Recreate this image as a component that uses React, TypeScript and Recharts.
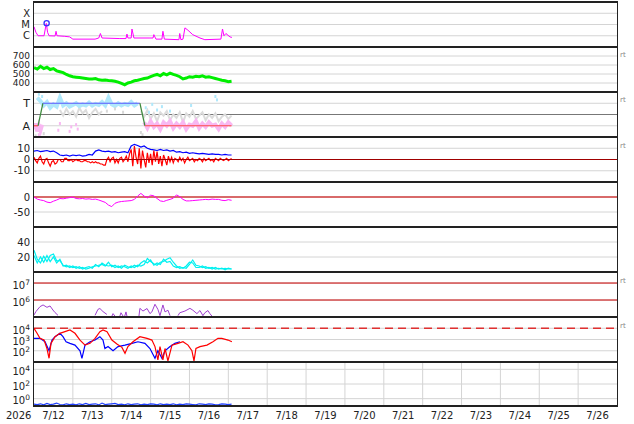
import React from 'react';
import {
  ComposedChart,
  Line,
  Scatter,
  XAxis,
  YAxis,
  CartesianGrid,
  ReferenceLine,
} from 'recharts';

const FONT = '"DejaVu Sans", sans-serif';
const W = 634;

const seq = (from: number, to: number, step: number) => {
  const out: number[] = [];
  for (let t = from; t <= to + 1e-9; t += step) out.push(t);
  return out;
};

// time axis in hours from 7/12 00:00
const DAYS = ['7/12', '7/13', '7/14', '7/15', '7/16', '7/17', '7/18', '7/19', '7/20', '7/21', '7/22', '7/23', '7/24', '7/25', '7/26'];
const MIDNIGHTS = seq(24, 336, 24);
const NOONS = DAYS.map((_, i) => 12 + i * 24);
const H1 = seq(0, 122, 1);
const H2 = seq(0, 122, 2);

// x-ray flux (log10 W/m2)
const XRAY_T = [0, 1.2, 2.5, 6.2, 7.6, 8.4, 9.3, 13, 13.6, 14.2, 19, 22, 24, 37.7, 40, 41, 42, 53, 56.8, 57.4, 58, 60, 60.5, 61.7, 71.6, 73.5, 74, 75.3, 79, 79.6, 80.5, 89.5, 90, 90.7, 92, 93.2, 95, 98, 102.5, 105.5, 115.4, 116.4, 117.3, 118.5, 121, 122.2];
const XRAY_V = [-5.2, -5.7, -6.0, -6.0, -4.9, -5.7, -6.0, -6.02, -5.6, -6.0, -6.05, -6.1, -6.3, -6.3, -6.2, -5.8, -6.2, -6.25, -6.25, -5.85, -6.2, -6.2, -5.4, -6.2, -6.2, -6.2, -5.9, -6.3, -6.3, -5.6, -6.3, -6.35, -5.8, -6.35, -6.3, -5.3, -5.5, -5.9, -6.2, -6.35, -6.3, -5.4, -6.0, -5.8, -6.1, -6.15];
const FLARE_T = [7.8];
const FLARE_V = [-4.89];

// solar wind speed km/s
const SPEED = [570, 555, 585, 560, 575, 550, 560, 535, 525, 515, 495, 480, 470, 465, 460, 455, 450, 445, 445, 450, 435, 430, 432, 428, 425, 420, 410, 395, 380, 400, 410, 425, 430, 440, 450, 455, 470, 485, 495, 480, 505, 490, 510, 495, 485, 470, 445, 455, 470, 465, 475, 470, 480, 465, 470, 460, 450, 440, 430, 425, 415, 420];

// IMF sector (T = 1, A = -1)
const TOWARD_T = seq(2, 64, 2);
const TOWARD_V = [1.5, 1.2, 0.8, 1.1, 0.6, 0.9, 0.7, 1.5, 0.8, 1.0, 0.7, 0.85, 1.0, 0.75, 0.9, 0.8, 1.05, 0.8, 0.95, 0.85, 1.1, 0.8, 1.5, 0.9, 0.75, 1.0, 0.8, 0.95, 0.85, 1.1, 0.8, 1.0];
const AWAY1_T = seq(0, 5, 1);
const AWAY1_V = [-1.3, -0.8, -1.5, -1.0, -1.4, -0.9];
const AWAY2_T = seq(68, 122, 2);
const AWAY2_V = [-0.7, -1.2, -0.6, -1.1, -0.8, -1.3, -0.7, -1.0, -0.6, -1.2, -0.8, -1.1, -0.7, -1.3, -0.9, -1.0, -0.6, -1.2, -0.8, -1.1, -0.7, -1.0, -0.9, -1.3, -0.8, -1.1, -0.7, -1.0];
const GRAY1_T = seq(16, 42, 2);
const GRAY1_V = [0.4, -0.1, 0.5, 0.0, 0.3, -0.2, 0.6, 0.1, 0.4, -0.3, 0.2, 0.5, 0.0, 0.3];
const GRAY2_T = seq(66, 122, 2);
const GRAY2_V = [0.3, -0.2, 0.4, -0.4, 0.1, -0.6, 0.2, -0.1, 0.3, -0.5, 0.0, -0.3, 0.2, -0.7, 0.1, -0.2, 0.3, -0.4, -0.1, 0.2, -0.5, 0.0, -0.3, 0.1, -0.6, -0.2, 0.0, -0.4, -0.1];
const TOWARD_DOT_T = [3, 5, 69, 71, 73, 76, 79, 84, 97, 112, 113];
const TOWARD_DOT_V = [1.8, 1.6, 0.6, 0.2, 0.9, 0.4, 0.7, 0.3, 0.8, 1.6, 1.3];
const AWAY_DOT_T = [3, 15, 16, 22, 23, 26, 27];
const AWAY_DOT_V = [-1.8, -1.4, -0.8, -1.5, -1.1, -0.9, -1.3];
const GRAY_DOT_T = [1, 6, 45, 50, 55, 66, 67];
const GRAY_DOT_V = [-1.9, -1.7, 0.3, 0.5, 0.2, -1.6, -1.8];
const SECTOR_T = [0, 2.5, 5.5, 65.4, 68.5, 122];
const SECTOR_V = [-1, -1, 1, 1, -1, -1];

// IMF Bt (2 h) / Bz (1 h) nT
const BT = [7.5, 8, 7, 7.5, 8, 7, 7.5, 6, 4, 3.5, 4, 3, 4, 3.5, 4, 3, 3.5, 4.5, 4, 7.5, 8.5, 7.5, 7, 7.5, 6.5, 7, 6, 6.5, 7, 6, 12, 13.5, 12.5, 11, 12, 10, 9, 8.5, 8, 9, 8, 8.5, 7.5, 8, 6.5, 7, 6, 6.5, 5.5, 6, 5.5, 5, 5.5, 5, 4.5, 5, 4.5, 4.5, 4, 4.5, 4, 4];
const BZ = [
  2, -1, -3, 1, 3, -2, -4, 0, 1, -3, -6, -2, -1, -4, -3, 0, 0, -2, -2, 1, 1,
  -1, -1, 0, -2, -1, 0, -1, -1, -2, -2, -1, -1, -2, -2, -3, -2, -3, -2, -3, -3, -4, -4, -5, -5,
  0, 2, -2, 1, 2, -3, 0, -3, 1, 2, -2, 0,
  3, -2, 5, 9, -6, 12, 2, -4, 10, -8, 8, 0, -7, 6, -3, 5, -5, 8, -2, 7, -4, 3, -6, 4, 0, -5, 3, -2, 2,
  -3, 1, 0, -2, 2, -1, 1, -3, 0, 2, -1, 0, 1, -2, 0, -1, 1, 0, -2, 1, -1, 0, 1, -1, 0, -2, 1, 0, -1, 1, 0, -1, 0, 1, -1, 0, 1,
];

// Dst nT
const DST = [0, -7, -10, -12, -17, -19, -14, -10, -5, -6, -4, -2, 0, -5, -6, -5, -7, -6, -8, -7, -10, -14, -18, -27, -32, -21, -17, -15, -14, -13, -12, -8, 3, 12, 3, -3, 6, 4, -5, -13, -15, -11, -8, -4, 7, 1, -8, -13, -13, -12, -11, -10, -9, -8, -9, -7, -8, -8, -11, -12, -9, -11];

// density
const DENS_A = [29, 17, 12, 21, 14, 22, 24, 15, 15, 9, 7, 8, 6, 7, 5, 6, 4, 5, 7, 8, 9, 10, 8, 13, 7, 9, 6, 8, 7, 5, 8, 6, 9, 8, 10, 18, 14, 11, 9, 13, 14, 17, 19, 13, 8, 5, 6, 5, 10, 16, 9, 8, 6, 7, 5, 6, 4, 5, 4, 5, 4, 4];
const DENS_B = [22, 12, 20, 13, 22, 14, 20, 12, 17, 8, 9, 6, 8, 5, 7, 4, 6, 7, 5, 10, 7, 12, 9, 8, 9, 6, 8, 5, 9, 7, 6, 9, 7, 12, 15, 12, 16, 9, 12, 10, 17, 13, 14, 8, 6, 7, 5, 8, 13, 12, 6, 6, 8, 5, 6, 4, 6, 4, 5, 3, 5, 4];

// proton fluence (log10)
const PROT_T = [0, 1.2, 3.7, 5.6, 8, 9.9, 11.7, 13, 14.8, 16, 37.7, 39.5, 40.7, 42.6, 45, 46, 48.1, 48.8, 50, 51, 53, 53.7, 55, 55.5, 56, 56.8, 57.4, 58, 64.8, 65.4, 67.3, 69.8, 71.6, 72.8, 74.7, 76.5, 77.8, 79.6, 80.9, 82.7, 84, 85, 88.9, 90, 93.2, 96.3, 98.1, 100.6, 102.5, 104.3, 105.5, 107.4, 108.6, 109.9];
const PROT_V = [5.12, 5.32, 5.61, 5.71, 5.57, 5.65, 5.41, 5.26, 5.1, null, 5.1, 5.45, 5.5, 5.32, 5.15, null, 5.05, 5.2, 5.05, null, 5.05, 5.25, 5.05, null, 5.05, 5.3, 5.05, null, 5.05, 5.51, 5.35, 5.5, 5.2, 5.3, 5.75, 5.45, 5.08, 5.71, 5.3, 5.4, 5.08, null, 5.08, 5.25, 5.35, 5.51, 5.4, 5.2, 5.38, 5.08, 5.25, 5.38, 5.2, 5.05];

// electron flux (log10)
const ELEC_RED_T = [0, 1.9, 3.7, 6.2, 8.0, 9.3, 10.5, 13.0, 16.0, 19.1, 22.2, 25.3, 28.4, 31.5, 34.6, 37.7, 40.7, 42.6, 45.1, 48.1, 51.2, 54.3, 56.2, 58.0, 61.1, 65.4, 69.8, 72.8, 74.7, 76.5, 77.8, 79.6, 80.9, 82.7, 85.2, 88.9, 92.0, 95.1, 97.5, 98.8, 100.0, 102.5, 106.8, 110.5, 113.6, 116.0, 119.8, 122.2];
const ELEC_RED_V = [4.0, 3.55, 3.1, 2.95, 2.2, 1.33, 2.66, 3.25, 3.55, 3.7, 3.85, 3.55, 2.95, 2.5, 2.66, 3.1, 3.7, 3.85, 3.7, 2.95, 2.6, 2.3, 1.77, 2.37, 2.8, 3.25, 3.1, 2.95, 2.37, 1.18, 2.37, 1.18, 2.2, 1.1, 2.5, 2.66, 2.8, 2.5, 2.0, 1.1, 2.2, 2.37, 2.5, 2.8, 3.1, 3.1, 2.95, 2.8];
const ELEC_BLUE_T = [0, 3.7, 6.8, 9.3, 11.1, 13.0, 16.0, 17.9, 19.8, 22.2, 25.3, 28.4, 29.6, 31.5, 34.6, 37.7, 40.7, 42.6, 43.8, 45.7, 48.8, 51.9, 56.2, 60.5, 64.2, 68.5, 71.6, 74.7, 76.5, 79.0, 80.9, 84.0, 87.0, 90.1];
const ELEC_BLUE_V = [3.1, 3.1, 2.8, 2.0, 2.95, 3.25, 3.55, 3.25, 2.8, 2.66, 2.5, 2.0, 1.33, 2.5, 2.8, 2.95, 3.25, 2.95, 2.2, 2.37, 2.0, 2.37, 2.5, 2.66, 2.8, 2.66, 2.2, 1.33, 2.0, 1.33, 2.0, 2.37, 2.66, 2.8];

// bottom panel (log10)
const LOW_FLUX = [-0.75, -0.8, -0.7, -0.85, -0.65, -0.8, -0.75, -0.6, -0.8, -0.85, -0.7, -0.8, -0.75, -0.85, -0.7, -0.8, -0.65, -0.8, -0.75, -0.7, -0.85, -0.6, -0.8, -0.75, -0.7, -0.65, -0.8, -0.75, -0.85, -0.7, -0.8, -0.75, -0.7, -0.85, -0.75, -0.8, -0.7, -0.75, -0.85, -0.7, -0.8, -0.75, -0.8, -0.7, -0.85, -0.75, -0.8, -0.7, -0.75, -0.8, -0.85, -0.7, -0.75, -0.8, -0.7, -0.75, -0.85, -0.8, -0.7, -0.75, -0.8, -0.75];

const PANEL_TOPS = [2, 47, 92, 137, 182, 227, 272, 317, 362];
const BOTTOM = 406;
const RT_MARKS = [56, 101, 147, 282, 327];

const pts = (t: number[], v: (number | null)[]) => t.map((x, i) => ({ t: x, v: v[i] }));

const textTick = (fmt: (v: number) => string, size = 10) => (p: any) => (
  <text x={p.x} y={p.y} dy="0.35em" textAnchor="end" fontSize={size} fontFamily={FONT} fill="#222">
    {fmt(p.payload.value)}
  </text>
);

const supTick = (p: any) => (
  <text x={p.x} y={p.y} dy="0.35em" textAnchor="end" fontFamily={FONT} fill="#222">
    <tspan fontSize={10}>10</tspan>
    <tspan fontSize={7.5} dy={-4}>
      {p.payload.value}
    </tspan>
  </text>
);

const dotShape = (color: string) => (p: any) => (
  <rect x={p.cx - 1} y={p.cy - 1.5} width={2} height={3} fill={color} />
);

interface PanelProps {
  top: number;
  height: number;
  domain: [number, number];
  ticks: number[];
  tick: any;
  bottomAxis?: boolean;
  children: React.ReactNode;
}

function Panel({ top, height, domain, ticks, tick, bottomAxis, children }: PanelProps) {
  return (
    <div style={{ position: 'absolute', left: 0, top }}>
      <ComposedChart
        width={W}
        height={height + (bottomAxis ? 20 : 0)}
        margin={{ top: 0, right: 17, bottom: 0, left: 0 }}
      >
        <CartesianGrid stroke="#d4d4d4" verticalValues={MIDNIGHTS} />
        {bottomAxis ? (
          <XAxis
            type="number"
            dataKey="t"
            domain={[0, 360]}
            ticks={NOONS}
            interval={0}
            allowDataOverflow
            height={20}
            tickSize={0}
            tickMargin={6}
            tickLine={false}
            axisLine={false}
            tickFormatter={(v: number) => DAYS[Math.round((v - 12) / 24)]}
            tick={{ fontSize: 10, fontFamily: FONT, fill: '#222' }}
          />
        ) : (
          <XAxis
            type="number"
            dataKey="t"
            domain={[0, 360]}
            ticks={MIDNIGHTS}
            allowDataOverflow
            height={0}
            tick={false}
            tickLine={false}
            axisLine={false}
          />
        )}
        <YAxis
          type="number"
          dataKey="v"
          domain={domain}
          ticks={ticks}
          interval={0}
          allowDataOverflow
          width={34}
          tickSize={0}
          tickMargin={4}
          tickLine={false}
          axisLine={false}
          tick={tick}
        />
        {children}
      </ComposedChart>
    </div>
  );
}

const XRAY_LABELS: Record<string, string> = { '-4': 'X', '-5': 'M', '-6': 'C' };
const SECTOR_LABELS: Record<string, string> = { '1': 'T', '-1': 'A' };

export default function App() {
  const sector = pts(SECTOR_T, SECTOR_V);
  return (
    <div style={{ position: 'fixed', left: 0, top: 0, width: W, height: 424, background: '#fff', overflow: 'hidden' }}>
      <Panel top={PANEL_TOPS[0]} height={45} domain={[-7, -3]} ticks={[-6, -5, -4]} tick={textTick((v) => XRAY_LABELS[String(v)], 10)}>
        <Line data={pts(XRAY_T, XRAY_V)} dataKey="v" stroke="#ff00ff" strokeWidth={1} dot={false} isAnimationActive={false} />
        <Scatter
          data={pts(FLARE_T, FLARE_V)}
          dataKey="v"
          isAnimationActive={false}
          shape={(p: any) => <circle cx={p.cx} cy={p.cy} r={2.6} fill="none" stroke="#3333ff" strokeWidth={1.3} />}
        />
      </Panel>

      <Panel top={PANEL_TOPS[1]} height={45} domain={[300, 800]} ticks={[400, 500, 600, 700]} tick={textTick((v) => String(v), 9)}>
        <Line data={pts(H2, SPEED)} dataKey="v" stroke="#00ee00" strokeWidth={3} dot={false} isAnimationActive={false} />
      </Panel>

      <Panel top={PANEL_TOPS[2]} height={45} domain={[-2, 2]} ticks={[-1, 1]} tick={textTick((v) => SECTOR_LABELS[String(v)], 11)}>
        <ReferenceLine y={0} stroke="#777" strokeWidth={1} />
        <Line data={pts(GRAY1_T, GRAY1_V)} dataKey="v" stroke="#dcdcdc" strokeWidth={2} dot={false} isAnimationActive={false} />
        <Line data={pts(GRAY2_T, GRAY2_V)} dataKey="v" stroke="#dcdcdc" strokeWidth={2} dot={false} isAnimationActive={false} />
        <Scatter data={pts(GRAY_DOT_T, GRAY_DOT_V)} dataKey="v" isAnimationActive={false} shape={dotShape('#d8d8d8')} />
        <Line data={pts(TOWARD_T, TOWARD_V)} dataKey="v" stroke="#b0e8fb" strokeWidth={4} dot={false} isAnimationActive={false} />
        <Scatter data={pts(TOWARD_DOT_T, TOWARD_DOT_V)} dataKey="v" isAnimationActive={false} shape={dotShape('#b0e8fb')} />
        <Line data={pts(AWAY1_T, AWAY1_V)} dataKey="v" stroke="#f8b8f2" strokeWidth={4} dot={false} isAnimationActive={false} />
        <Line data={pts(AWAY2_T, AWAY2_V)} dataKey="v" stroke="#f8b8f2" strokeWidth={4} dot={false} isAnimationActive={false} />
        <Scatter data={pts(AWAY_DOT_T, AWAY_DOT_V)} dataKey="v" isAnimationActive={false} shape={dotShape('#f8b8f2')} />
        <Line data={[sector[0], sector[1]]} dataKey="v" stroke="#ff4a4a" strokeWidth={1.2} dot={false} isAnimationActive={false} />
        <Line data={[sector[1], sector[2]]} dataKey="v" stroke="#3d8a3d" strokeWidth={1.2} dot={false} isAnimationActive={false} />
        <Line data={[sector[2], sector[3]]} dataKey="v" stroke="#5a5aff" strokeWidth={1.2} dot={false} isAnimationActive={false} />
        <Line data={[sector[3], sector[4]]} dataKey="v" stroke="#3d8a3d" strokeWidth={1.2} dot={false} isAnimationActive={false} />
        <Line data={[sector[4], sector[5]]} dataKey="v" stroke="#ff4a4a" strokeWidth={1.2} dot={false} isAnimationActive={false} />
      </Panel>

      <Panel top={PANEL_TOPS[3]} height={45} domain={[-20, 20]} ticks={[-10, 0, 10]} tick={textTick((v) => String(v))}>
        <Line data={pts(H2, BT)} dataKey="v" stroke="#0000ff" strokeWidth={1.2} dot={false} isAnimationActive={false} />
        <Line data={pts(H1, BZ)} dataKey="v" stroke="#ff0000" strokeWidth={1.2} dot={false} isAnimationActive={false} />
        <ReferenceLine y={0} stroke="#a00000" strokeWidth={1} />
      </Panel>

      <Panel top={PANEL_TOPS[4]} height={45} domain={[-100, 50]} ticks={[-50, 0]} tick={textTick((v) => String(v))}>
        <ReferenceLine y={0} stroke="#d86a6a" strokeWidth={2} />
        <Line data={pts(H2, DST)} dataKey="v" stroke="#ff00ff" strokeWidth={1} dot={false} isAnimationActive={false} />
      </Panel>

      <Panel top={PANEL_TOPS[5]} height={45} domain={[0, 60]} ticks={[20, 40]} tick={textTick((v) => String(v))}>
        <Line data={pts(H2, DENS_B)} dataKey="v" stroke="#00f0f0" strokeWidth={1.2} dot={false} isAnimationActive={false} />
        <Line data={pts(H2, DENS_A)} dataKey="v" stroke="#00f0f0" strokeWidth={1.2} dot={false} isAnimationActive={false} />
      </Panel>

      <Panel top={PANEL_TOPS[6]} height={45} domain={[5, 7.65]} ticks={[6, 7]} tick={supTick}>
        <ReferenceLine y={7} stroke="#cc0000" strokeWidth={1} />
        <ReferenceLine y={6} stroke="#cc0000" strokeWidth={1} />
        <Line data={pts(PROT_T, PROT_V)} dataKey="v" stroke="#a040d0" strokeWidth={1} dot={false} connectNulls={false} isAnimationActive={false} />
      </Panel>

      <Panel top={PANEL_TOPS[7]} height={45} domain={[1, 5]} ticks={[2, 3, 4]} tick={supTick}>
        <ReferenceLine y={4} stroke="#e03030" strokeWidth={1.5} strokeDasharray="8 5" />
        <Line data={pts(ELEC_BLUE_T, ELEC_BLUE_V)} dataKey="v" stroke="#0000ff" strokeWidth={1.2} dot={false} isAnimationActive={false} />
        <Line data={pts(ELEC_RED_T, ELEC_RED_V)} dataKey="v" stroke="#ff0000" strokeWidth={1.2} dot={false} isAnimationActive={false} />
      </Panel>

      <Panel top={PANEL_TOPS[8]} height={BOTTOM - PANEL_TOPS[8]} domain={[-1, 5]} ticks={[0, 2, 4]} tick={supTick} bottomAxis>
        <Line data={pts(H2, LOW_FLUX)} dataKey="v" stroke="#2040ff" strokeWidth={1.2} dot={false} isAnimationActive={false} />
      </Panel>

      {/* frame */}
      {PANEL_TOPS.concat([BOTTOM]).map((y) => (
        <div key={y} style={{ position: 'absolute', left: 33, top: y - 1, width: 585, height: 2, background: '#222' }} />
      ))}
      <div style={{ position: 'absolute', left: 33, top: 2, width: 1, height: BOTTOM - 2, background: '#222' }} />
      <div style={{ position: 'absolute', left: 617, top: 2, width: 1, height: BOTTOM - 2, background: '#222' }} />

      {RT_MARKS.map((y) => (
        <div key={y} style={{ position: 'absolute', left: 620, top: y - 5, fontSize: 7, fontFamily: FONT, color: '#888' }}>
          rt
        </div>
      ))}
      <div style={{ position: 'absolute', left: 6, top: 410, fontSize: 10, fontFamily: FONT, color: '#222' }}>2026</div>
    </div>
  );
}
